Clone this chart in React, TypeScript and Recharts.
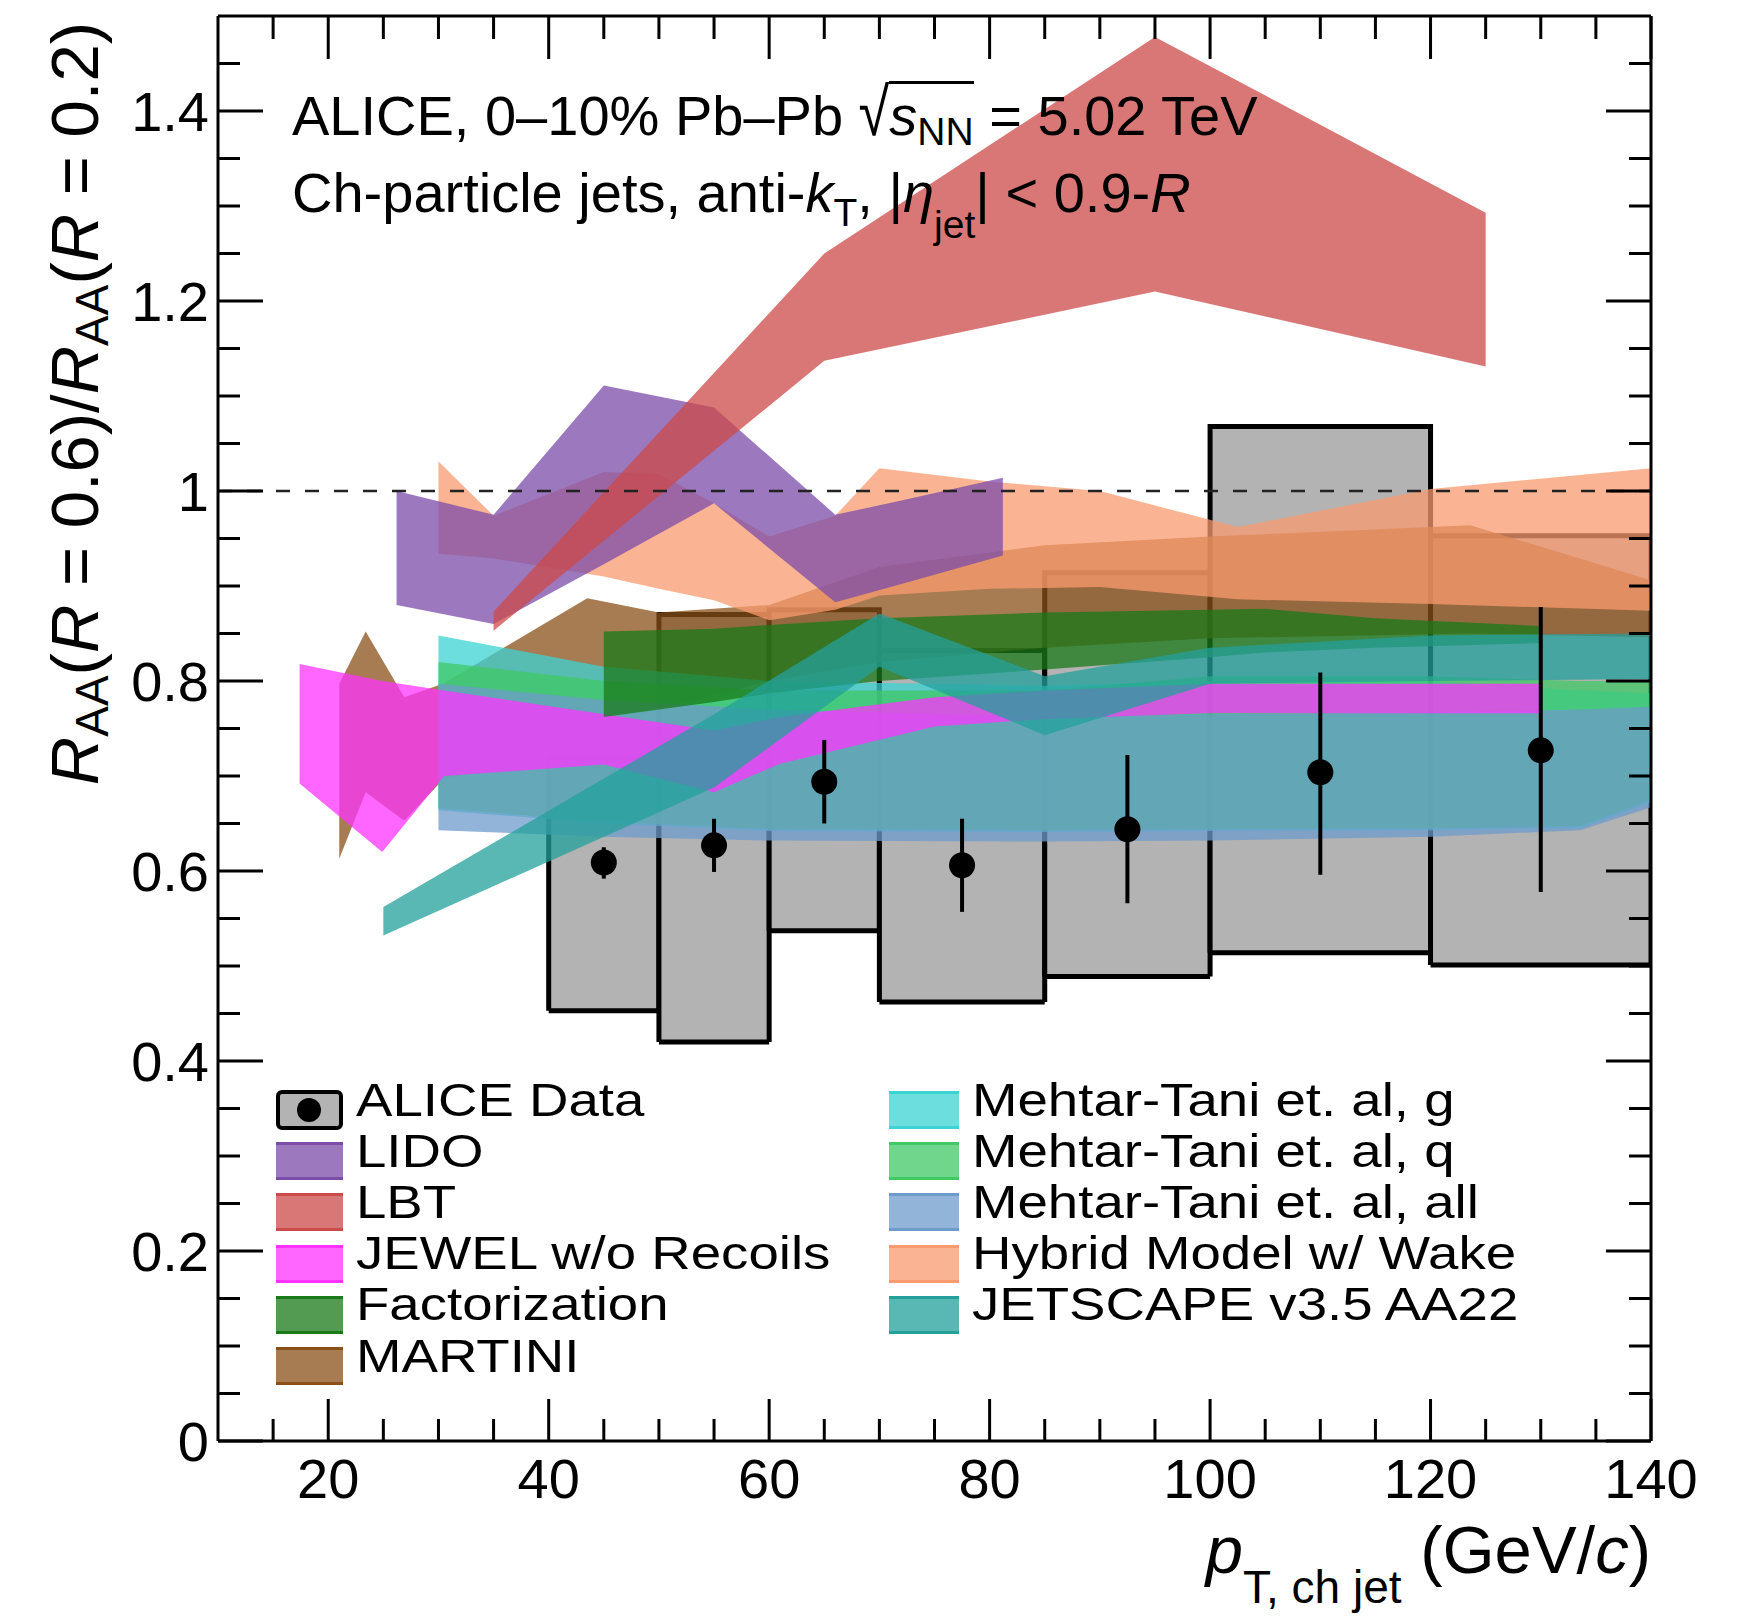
import React from 'react';
import { ComposedChart, Area, Line, Scatter, ErrorBar, XAxis, YAxis } from 'recharts';

const FONT = "'Liberation Sans', Arial, Helvetica, sans-serif";
const W = 1737;
const H = 1616;

// ---------------- axis ticks ----------------
const xTicks = [15, 20, 25, 30, 35, 40, 45, 50, 55, 60, 65, 70, 75, 80, 85, 90, 95, 100, 105, 110, 115, 120, 125, 130, 135, 140];
const xMajorTicks = [20, 40, 60, 80, 100, 120, 140];
const yTicks = [0, 0.05, 0.1, 0.15, 0.2, 0.25, 0.3, 0.35, 0.4, 0.45, 0.5, 0.55, 0.6, 0.65, 0.7, 0.75, 0.8, 0.85, 0.9, 0.95, 1, 1.05, 1.1, 1.15, 1.2, 1.25, 1.3, 1.35, 1.4, 1.45];
const yMajorTicks = [0, 0.2, 0.4, 0.6, 0.8, 1, 1.2, 1.4];
const yTickLabels = ['0', '0.2', '0.4', '0.6', '0.8', '1', '1.2', '1.4'];

// ---------------- ALICE data ----------------
const dataX = [45, 55, 65, 77.5, 92.5, 110, 130];
const dataY = [0.609, 0.627, 0.694, 0.606, 0.644, 0.704, 0.727];
const statLow = [0.592, 0.599, 0.650, 0.557, 0.566, 0.596, 0.578];
const statHigh = [0.625, 0.655, 0.738, 0.655, 0.722, 0.809, 0.878];
const binLowEdge = [40, 50, 60, 70, 85, 100, 120];
const binHighEdge = [50, 60, 70, 85, 100, 120, 140];
const sysLow = [0.453, 0.420, 0.537, 0.462, 0.489, 0.514, 0.501];
const sysHigh = [0.720, 0.870, 0.875, 0.832, 0.914, 1.068, 0.953];

// ---------------- model bands ----------------
const lidoX = [26.2, 35, 45, 55, 66, 72, 81.2];
const lidoHigh = [1.0, 0.975, 1.111, 1.088, 0.975, 0.99, 1.014];
const lidoLow = [0.88, 0.86, 0.923, 0.987, 0.883, 0.902, 0.932];

const lbtX = [35, 65, 95, 125];
const lbtHigh = [0.873, 1.25, 1.478, 1.293];
const lbtLow = [0.853, 1.137, 1.21, 1.131];

const jewelX = [17.4, 24.9, 30.5, 45, 55, 61, 75, 85, 100, 115, 130];
const jewelHigh = [0.818, 0.80, 0.79, 0.765, 0.748, 0.762, 0.783, 0.79, 0.797, 0.797, 0.797];
const jewelLow = [0.692, 0.620, 0.70, 0.712, 0.683, 0.713, 0.752, 0.76, 0.766, 0.766, 0.766];

const factX = [45, 55, 60, 70, 85, 100, 105, 115, 130];
const factHigh = [0.852, 0.855, 0.859, 0.866, 0.872, 0.875, 0.876, 0.866, 0.858];
const factLow = [0.762, 0.778, 0.787, 0.80, 0.812, 0.825, 0.83, 0.835, 0.84];

const martiniX = [21, 23.4, 26.9, 30.4, 43.5, 50, 60, 70, 85, 100, 123.6, 140];
const martiniHigh = [0.797, 0.852, 0.783, 0.797, 0.887, 0.872, 0.88, 0.92, 0.943, 0.952, 0.964, 0.906];
const martiniLow = [0.613, 0.683, 0.653, 0.696, 0.74, 0.77, 0.80, 0.82, 0.835, 0.845, 0.85, 0.846];

const mtX = [30, 45, 60, 85, 100, 120, 133.6, 140];
const mtGHigh = [0.848, 0.815, 0.80, 0.795, 0.80, 0.80, 0.79, 0.787];
const mtGLow = [0.664, 0.65, 0.642, 0.641, 0.642, 0.643, 0.645, 0.672];
const mtQHigh = [0.82, 0.80, 0.79, 0.79, 0.805, 0.805, 0.80, 0.80];
const mtQLow = [0.666, 0.652, 0.644, 0.643, 0.644, 0.645, 0.647, 0.675];
const mtAllHigh = [0.797, 0.78, 0.77, 0.762, 0.765, 0.767, 0.77, 0.773];
const mtAllLow = [0.643, 0.636, 0.632, 0.631, 0.632, 0.636, 0.643, 0.667];

const hybridX = [30, 35, 45, 50, 55, 60, 66, 70, 80, 90, 102.5, 120, 140];
const hybridHigh = [1.031, 0.974, 1.02, 1.018, 0.987, 0.952, 0.974, 1.024, 1.01, 1.0, 0.962, 1.002, 1.024];
const hybridLow = [0.934, 0.929, 0.91, 0.897, 0.885, 0.864, 0.875, 0.89, 0.897, 0.899, 0.886, 0.881, 0.874];

const jetscapeX = [25, 55, 70, 85, 100, 120, 140];
const jetscapeHigh = [0.562, 0.765, 0.871, 0.805, 0.835, 0.848, 0.85];
const jetscapeLow = [0.532, 0.688, 0.815, 0.743, 0.797, 0.80, 0.802];

const modelNames = ['LIDO', 'LBT', 'JEWEL w/o Recoils', 'Factorization', 'MARTINI', 'Mehtar-Tani et. al, g', 'Mehtar-Tani et. al, q', 'Mehtar-Tani et. al, all', 'Hybrid Model w/ Wake', 'JETSCAPE v3.5 AA22'];
const modelColors = ['#7b4ca8', '#cc4a48', '#ff33ff', '#1a7a1a', '#8b5018', '#3cd3d3', '#3fc864', '#6e9bcb', '#f99b6f', '#23a09b'];
const BAND_OPACITY = 0.75;

const band = (xs: number[], lo: number[], hi: number[]) => xs.map((x, i) => ({ x, r: [lo[i], hi[i]] }));

const modelBands = [
  band(lidoX, lidoLow, lidoHigh),
  band(lbtX, lbtLow, lbtHigh),
  band(jewelX, jewelLow, jewelHigh),
  band(factX, factLow, factHigh),
  band(martiniX, martiniLow, martiniHigh),
  band(mtX, mtGLow, mtGHigh),
  band(mtX, mtQLow, mtQHigh),
  band(mtX, mtAllLow, mtAllHigh),
  band(hybridX, hybridLow, hybridHigh),
  band(jetscapeX, jetscapeLow, jetscapeHigh),
];
// drawing order (back to front)
const drawOrder = [4, 5, 6, 7, 2, 3, 8, 0, 1, 9];

// systematic boxes as closed ranged areas
const sysBoxes = binLowEdge.map((x0, i) => [
  { x: x0, r: [sysLow[i], sysLow[i]] },
  { x: x0, r: [sysLow[i], sysHigh[i]] },
  { x: binHighEdge[i], r: [sysLow[i], sysHigh[i]] },
  { x: binHighEdge[i], r: [sysLow[i], sysLow[i]] },
]);

const points = dataX.map((x, i) => ({ x, y: dataY[i], err: [dataY[i] - statLow[i], statHigh[i] - dataY[i]] }));
const unityLine = [{ x: 10, y: 1 }, { x: 140, y: 1 }];

// ---------------- helpers ----------------
const rgba = (hex: string, a: number) => {
  const n = parseInt(hex.slice(1), 16);
  return `rgba(${(n >> 16) & 255},${(n >> 8) & 255},${n & 255},${a})`;
};
const yMajorIndex = (v: number) => yMajorTicks.findIndex((m) => Math.abs(m - v) < 1e-6);
const AXIS = { stroke: '#000', strokeWidth: 3 };

const BottomTick = (p: any) => {
  const v = p.payload.value;
  const major = xMajorTicks.includes(v);
  return (
    <g>
      <line x1={p.x} x2={p.x} y1={p.y} y2={p.y - (major ? 42 : 22)} stroke="#000" strokeWidth={3} />
      {major && (
        <text x={p.x} y={p.y + 57} textAnchor="middle" fontSize={56} fontFamily={FONT} fill="#000">{v}</text>
      )}
    </g>
  );
};
const TopTick = (p: any) => {
  const major = xMajorTicks.includes(p.payload.value);
  return <line x1={p.x} x2={p.x} y1={p.y} y2={p.y + (major ? 43 : 23)} stroke="#000" strokeWidth={3} />;
};
const LeftTick = (p: any) => {
  const idx = yMajorIndex(p.payload.value);
  const major = idx >= 0;
  return (
    <g>
      <line x1={p.x} x2={p.x + (major ? 45 : 22)} y1={p.y} y2={p.y} stroke="#000" strokeWidth={3} />
      {major && (
        <text x={p.x - 9} y={p.y + 20} textAnchor="end" fontSize={56} fontFamily={FONT} fill="#000">{yTickLabels[idx]}</text>
      )}
    </g>
  );
};
const RightTick = (p: any) => {
  const major = yMajorIndex(p.payload.value) >= 0;
  return <line x1={p.x} x2={p.x - (major ? 45 : 22)} y1={p.y} y2={p.y} stroke="#000" strokeWidth={3} />;
};
const DataDot = (p: any) => <circle cx={p.cx} cy={p.cy} r={13} fill="#000" />;

// ---------------- legend layout ----------------
const LEG_ROW0 = 1110;
const LEG_STEP = 51.2;
const LEG_FS = 45.5;
const LEG_LH = 46;
const legendCol1 = [0, 1, 2, 3, 4];
const legendCol2 = [5, 6, 7, 8, 9];

const SUB = (size: number, drop: number): React.CSSProperties => ({ fontSize: size, position: 'relative', top: drop, lineHeight: 1 });
const legendText = (left: number, cy: number): React.CSSProperties => ({
  position: 'absolute', left, top: cy - 32.5, height: LEG_LH, fontSize: LEG_FS, lineHeight: `${LEG_LH}px`,
  whiteSpace: 'nowrap', transform: 'scaleX(1.2)', transformOrigin: '0 50%',
});

function LegendBand({ idx, row, col }: { idx: number; row: number; col: number }) {
  const cy = LEG_ROW0 + row * LEG_STEP;
  const sx = col === 0 ? 276 : 889;
  const tx = col === 0 ? 356 : 972;
  const c = modelColors[idx];
  return (
    <>
      <div style={{ position: 'absolute', left: sx, top: cy - 19, width: col === 0 ? 67 : 70, height: 38, boxSizing: 'border-box', background: rgba(c, BAND_OPACITY), borderTop: `3px solid ${c}`, borderBottom: `3px solid ${c}` }} />
      <div style={legendText(tx, cy)}>{modelNames[idx]}</div>
    </>
  );
}

export default function App() {
  return (
    <div style={{ position: 'relative', width: W, height: H, fontFamily: FONT, color: '#000', background: '#fff', overflow: 'hidden' }}>
      <style>{'html,body{margin:0;padding:0;overflow:hidden;background:#fff}'}</style>
      <ComposedChart width={W} height={H} margin={{ top: 15, right: 85, bottom: 95, left: 18 }}>
        <XAxis xAxisId={0} dataKey="x" type="number" domain={[10, 140]} allowDataOverflow ticks={xTicks} interval={0}
          tickSize={0} tickMargin={0} tickLine={false} axisLine={AXIS} tick={BottomTick} height={80} />
        <XAxis xAxisId="top" orientation="top" dataKey="x" type="number" domain={[10, 140]} allowDataOverflow ticks={xTicks} interval={0}
          tickSize={0} tickMargin={0} tickLine={false} axisLine={AXIS} tick={TopTick} height={1} />
        <YAxis yAxisId={0} type="number" domain={[0, 1.5]} allowDataOverflow ticks={yTicks} interval={0}
          tickSize={0} tickMargin={0} tickLine={false} axisLine={AXIS} tick={LeftTick} width={200} />
        <YAxis yAxisId="right" orientation="right" type="number" domain={[0, 1.5]} allowDataOverflow ticks={yTicks} interval={0}
          tickSize={0} tickMargin={0} tickLine={false} axisLine={AXIS} tick={RightTick} width={1} />

        {sysBoxes.map((b, i) => (
          <Area key={`box${i}`} data={b} dataKey="r" type="linear" fill="#b3b3b3" fillOpacity={1}
            stroke="#000" strokeWidth={5} dot={false} activeDot={false} isAnimationActive={false} />
        ))}
        {drawOrder.map((m) => (
          <Area key={`band${m}`} data={modelBands[m]} dataKey="r" type="linear" fill={modelColors[m]} fillOpacity={BAND_OPACITY}
            stroke="none" dot={false} activeDot={false} isAnimationActive={false} />
        ))}
        <Line data={unityLine} dataKey="y" type="linear" stroke="#222" strokeWidth={2.5} strokeDasharray="14 15"
          dot={false} activeDot={false} isAnimationActive={false} />
        <Scatter data={points} dataKey="y" shape={DataDot} isAnimationActive={false}>
          <ErrorBar dataKey="err" direction="y" width={0} stroke="#000" strokeWidth={4} isAnimationActive={false} />
        </Scatter>
      </ComposedChart>

      {/* annotations */}
      <div style={{ position: 'absolute', left: 292, top: 87.6, fontSize: 56, lineHeight: 1, whiteSpace: 'nowrap' }}>
        ALICE, 0–10% Pb–Pb{' '}
        <span style={{ display: 'inline-block', transform: 'scaleY(1.2)', transformOrigin: '50% 85%' }}>√</span>
        <span style={{ borderTop: '3px solid #000' }}><i>s</i><span style={SUB(39, 10)}>NN</span></span> = 5.02 TeV
      </div>
      <div style={{ position: 'absolute', left: 292, top: 164.6, fontSize: 56, lineHeight: 1, whiteSpace: 'nowrap' }}>
        Ch-particle jets, anti-<i>k</i><span style={SUB(39, 14)}>T</span>, |<i>η</i><span style={SUB(39, 26)}>jet</span>| &lt; 0.9-<i>R</i>
      </div>

      {/* y-axis title */}
      <div style={{ position: 'absolute', left: 41, top: 822, width: 800, height: 67, transform: 'rotate(-90deg)', transformOrigin: '0 0', fontSize: 67, lineHeight: 1, textAlign: 'right', whiteSpace: 'nowrap' }}>
        <i>R</i><span style={SUB(46, 10)}>AA</span>(<i>R</i> = 0.6)/<i>R</i><span style={SUB(46, 10)}>AA</span>(<i>R</i> = 0.2)
      </div>
      {/* x-axis title */}
      <div style={{ position: 'absolute', right: 86, top: 1516, fontSize: 67, lineHeight: 1, whiteSpace: 'nowrap' }}>
        <i>p</i><span style={SUB(46, 30)}>T, ch jet</span> (GeV/<i>c</i>)
      </div>

      {/* legend */}
      <div style={{ position: 'absolute', left: 276, top: LEG_ROW0 - 20, width: 67, height: 40, boxSizing: 'border-box', background: '#b3b3b3', border: '4px solid #000', borderRadius: 6 }}>
        <div style={{ position: 'absolute', left: 17, top: 4, width: 24, height: 24, borderRadius: 12, background: '#000' }} />
      </div>
      <div style={legendText(356, LEG_ROW0)}>ALICE Data</div>
      {legendCol1.map((m, i) => <LegendBand key={`l1${m}`} idx={m} row={i + 1} col={0} />)}
      {legendCol2.map((m, i) => <LegendBand key={`l2${m}`} idx={m} row={i} col={1} />)}
    </div>
  );
}
